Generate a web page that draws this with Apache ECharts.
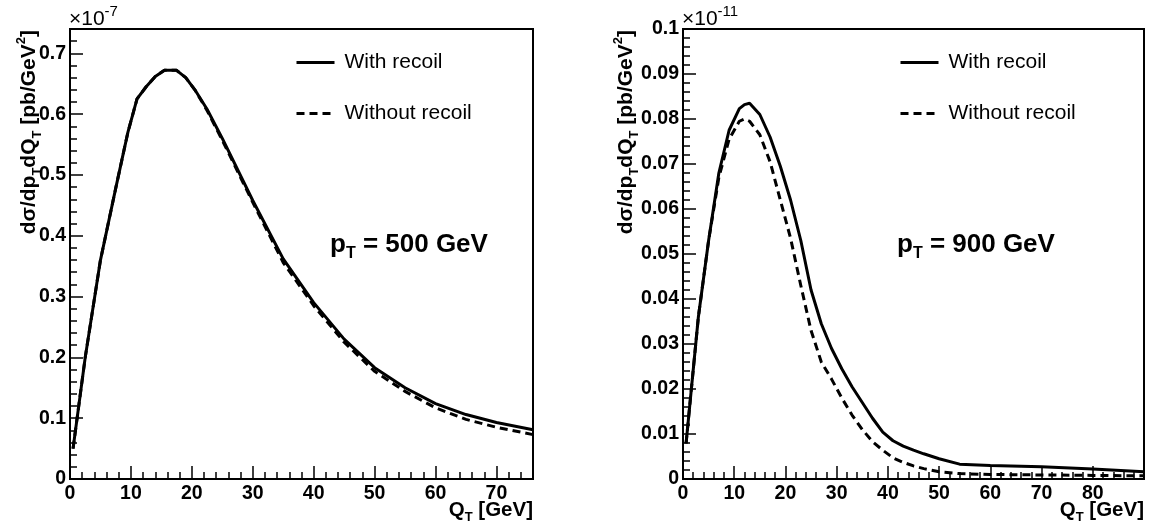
<!DOCTYPE html>
<html>
<head>
<meta charset="utf-8">
<script src="https://cdn.jsdelivr.net/npm/echarts@6/dist/echarts.min.js"></script>
<style>
html,body{margin:0;padding:0;background:#fff;}
#chart{width:1150px;height:527px;}
</style>
</head>
<body>
<div id="chart"></div>
<script>
// ---- Data (left panel: pT = 500 GeV, units 1e-7) ----
const leftQT      = [0.5, 2.5, 5, 7.5, 9.5, 11, 12.5, 14, 15.5, 17.5, 19, 20.5, 22.5, 25, 30, 35, 40, 45, 50, 55, 60, 65, 70, 76];
const leftWith    = [0.05, 0.20, 0.36, 0.478, 0.57, 0.625, 0.645, 0.662, 0.672, 0.672, 0.66, 0.64, 0.608, 0.56, 0.458, 0.362, 0.29, 0.23, 0.183, 0.15, 0.124, 0.106, 0.093, 0.081];
const leftWithout = [0.05, 0.20, 0.36, 0.478, 0.57, 0.625, 0.645, 0.662, 0.672, 0.672, 0.66, 0.64, 0.606, 0.557, 0.455, 0.356, 0.285, 0.225, 0.177, 0.144, 0.117, 0.098, 0.085, 0.073];
// ---- Data (right panel: pT = 900 GeV, units 1e-11) ----
const rightQT      = [0.6, 3, 5, 7, 9, 11, 12, 13, 15, 17, 19, 21, 23, 25, 27, 29, 31, 33, 35, 37, 39, 41, 43, 45, 47, 50, 54, 60, 70, 80, 90];
const rightWith    = [0.0079, 0.036, 0.053, 0.068, 0.0775, 0.0823, 0.0832, 0.0835, 0.081, 0.076, 0.0695, 0.062, 0.053, 0.042, 0.0345, 0.029, 0.0245, 0.0205, 0.017, 0.0135, 0.0104, 0.0085, 0.0073, 0.0064, 0.0056, 0.0045, 0.0033, 0.003, 0.0027, 0.0022, 0.0016];
const rightWithout = [0.0079, 0.036, 0.053, 0.067, 0.0755, 0.0795, 0.0800, 0.0795, 0.0765, 0.0705, 0.062, 0.0535, 0.043, 0.033, 0.026, 0.0222, 0.018, 0.0142, 0.011, 0.0083, 0.0064, 0.0047, 0.0037, 0.0029, 0.0023, 0.0016, 0.0012, 0.001, 0.0009, 0.0008, 0.0007];
// ---- Axis settings / labels ----
const leftXRange  = [0, 76];
const leftYRange  = [0, 0.74];
const rightXRange = [0, 90];
const rightYRange = [0, 0.1];
const rightXLastLabel = 80;
const xTitle = '{m|Q}{s|T}{m| [GeV]}';
const yTitle = '{m|d\u03c3/dp}{s|T}{m|dQ}{s|T}{m| [pb/GeV}{u|2}{m|]}';
const seriesNames = ['With recoil', 'Without recoil'];
const panelLabels = ['{b|p}{bs|T}{b| = 500 GeV}', '{b|p}{bs|T}{b| = 900 GeV}'];
const exponents = ['-7', '-11'];

const FONT = 'Liberation Sans, Arial, Helvetica, sans-serif';
const zip = (xs, ys) => xs.map((x, i) => [x, ys[i]]);
const isMult = (v, step) => Math.abs(v / step - Math.round(v / step)) < 1e-6;
const fmtNum = v => parseFloat(v.toFixed(4)).toString();

const grids = [
  {left: 70, top: 29, width: 463, height: 450, show: true, borderColor: '#000', borderWidth: 2, backgroundColor: '#fff'},
  {left: 683, top: 29, width: 461, height: 450, show: true, borderColor: '#000', borderWidth: 2, backgroundColor: '#fff'}
];

function majorX(grid, range, lastLabel) {
  return {type: 'value', gridIndex: grid, min: range[0], max: range[1], interval: 10, position: 'bottom',
    axisLine: {show: true, onZero: false, lineStyle: {color: '#000', width: 2}},
    axisTick: {show: true, inside: true, length: 13, lineStyle: {color: '#000', width: 1.5}},
    splitLine: {show: false},
    axisLabel: {color: '#000', fontSize: 19.5, fontWeight: 'bold', fontFamily: FONT, margin: 5,
      formatter: v => (isMult(v, 10) && v <= lastLabel) ? String(Math.round(v)) : ''}};
}
function minorX(grid, range) {
  return {type: 'value', gridIndex: grid, min: range[0], max: range[1], interval: 2, position: 'bottom',
    axisLine: {show: false}, axisTick: {show: true, inside: true, length: 7, lineStyle: {color: '#000', width: 1.5}},
    splitLine: {show: false}, axisLabel: {show: false}};
}
function majorY(grid, range, step) {
  return {type: 'value', gridIndex: grid, min: range[0], max: range[1], interval: step, position: 'left',
    axisLine: {show: true, onZero: false, lineStyle: {color: '#000', width: 2}},
    axisTick: {show: true, inside: true, length: 13, lineStyle: {color: '#000', width: 1.5}},
    splitLine: {show: false},
    axisLabel: {color: '#000', fontSize: 19.5, fontWeight: 'bold', fontFamily: FONT, margin: 4,
      formatter: v => isMult(v, step) ? fmtNum(v) : ''}};
}
function minorY(grid, range, step) {
  return {type: 'value', gridIndex: grid, min: range[0], max: range[1], interval: step, position: 'left',
    axisLine: {show: false}, axisTick: {show: true, inside: true, length: 7, lineStyle: {color: '#000', width: 1.5}},
    splitLine: {show: false}, axisLabel: {show: false}};
}

function lineSeries(name, data, xi, yi, dashed) {
  return {type: 'line', name: name, xAxisIndex: xi, yAxisIndex: yi, data: data,
    symbol: 'none', smooth: false, z: 5,
    lineStyle: {color: '#000', width: 3, type: dashed ? [8, 5] : 'solid'},
    itemStyle: {color: '#000'}};
}

function richSet(main, small) {
  return {
    m: {fontSize: main, fontWeight: 'bold', fontFamily: FONT, color: '#000', lineHeight: main + 8},
    s: {fontSize: small, fontWeight: 'bold', fontFamily: FONT, color: '#000', verticalAlign: 'bottom', lineHeight: main + 8},
    u: {fontSize: small, fontWeight: 'bold', fontFamily: FONT, color: '#000', verticalAlign: 'top', lineHeight: main + 8}
  };
}
const richY = richSet(21, 13);
const richX = richSet(20.5, 13);
const richLabel = {
  b: {fontSize: 26, fontWeight: 'bold', fontFamily: FONT, color: '#000', lineHeight: 34},
  bs: {fontSize: 16, fontWeight: 'bold', fontFamily: FONT, color: '#000', verticalAlign: 'bottom', lineHeight: 34}
};
const richExp = {
  e: {fontSize: 21, fontFamily: FONT, color: '#000', lineHeight: 26, verticalAlign: 'bottom'},
  x: {fontSize: 15, fontFamily: FONT, color: '#000', lineHeight: 26, verticalAlign: 'top'}
};

function textEl(x, y, text, rich, align, rotation) {
  return {type: 'text', x: x, y: y, z: 100, rotation: rotation || 0,
    style: {text: text, rich: rich, align: align || 'left', verticalAlign: 'middle', fill: '#000'}};
}

const legendCommon = {orient: 'vertical', itemWidth: 38, itemHeight: 14, itemGap: 30, padding: 0,
  data: seriesNames, selectedMode: false,
  itemStyle: {color: 'rgba(0,0,0,0)', borderWidth: 0, opacity: 0},
  lineStyle: {width: 3},
  textStyle: {fontSize: 21, fontFamily: FONT, color: '#000', padding: [0, 0, 0, 5]}};

const option = {
  animation: false,
  backgroundColor: '#fff',
  grid: grids,
  xAxis: [majorX(0, leftXRange, leftXRange[1]), minorX(0, leftXRange), majorX(1, rightXRange, rightXLastLabel), minorX(1, rightXRange)],
  yAxis: [majorY(0, leftYRange, 0.1), minorY(0, leftYRange, 0.02), majorY(1, rightYRange, 0.01), minorY(1, rightYRange, 0.002)],
  legend: [
    Object.assign({left: 295, top: 52}, legendCommon),
    Object.assign({left: 899, top: 52}, legendCommon)
  ],
  series: [
    lineSeries(seriesNames[0], zip(leftQT, leftWith), 0, 0, false),
    lineSeries(seriesNames[1], zip(leftQT, leftWithout), 0, 0, true),
    lineSeries(seriesNames[0], zip(rightQT, rightWith), 2, 2, false),
    lineSeries(seriesNames[1], zip(rightQT, rightWithout), 2, 2, true)
  ],
  graphic: [
    textEl(29, 30, yTitle, richY, 'right', Math.PI / 2),
    textEl(626, 30, yTitle, richY, 'right', Math.PI / 2),
    textEl(533, 510, xTitle, richX, 'right'),
    textEl(1144, 510, xTitle, richX, 'right'),
    textEl(69, 17, '{e|\u00d710}{x|' + exponents[0] + '}', richExp),
    textEl(682, 17, '{e|\u00d710}{x|' + exponents[1] + '}', richExp),
    textEl(330, 245, panelLabels[0], richLabel),
    textEl(897, 245, panelLabels[1], richLabel)
  ]
};

const chart = echarts.init(document.getElementById('chart'), null, {renderer: 'canvas'});
chart.setOption(option);
</script>
</body>
</html>
